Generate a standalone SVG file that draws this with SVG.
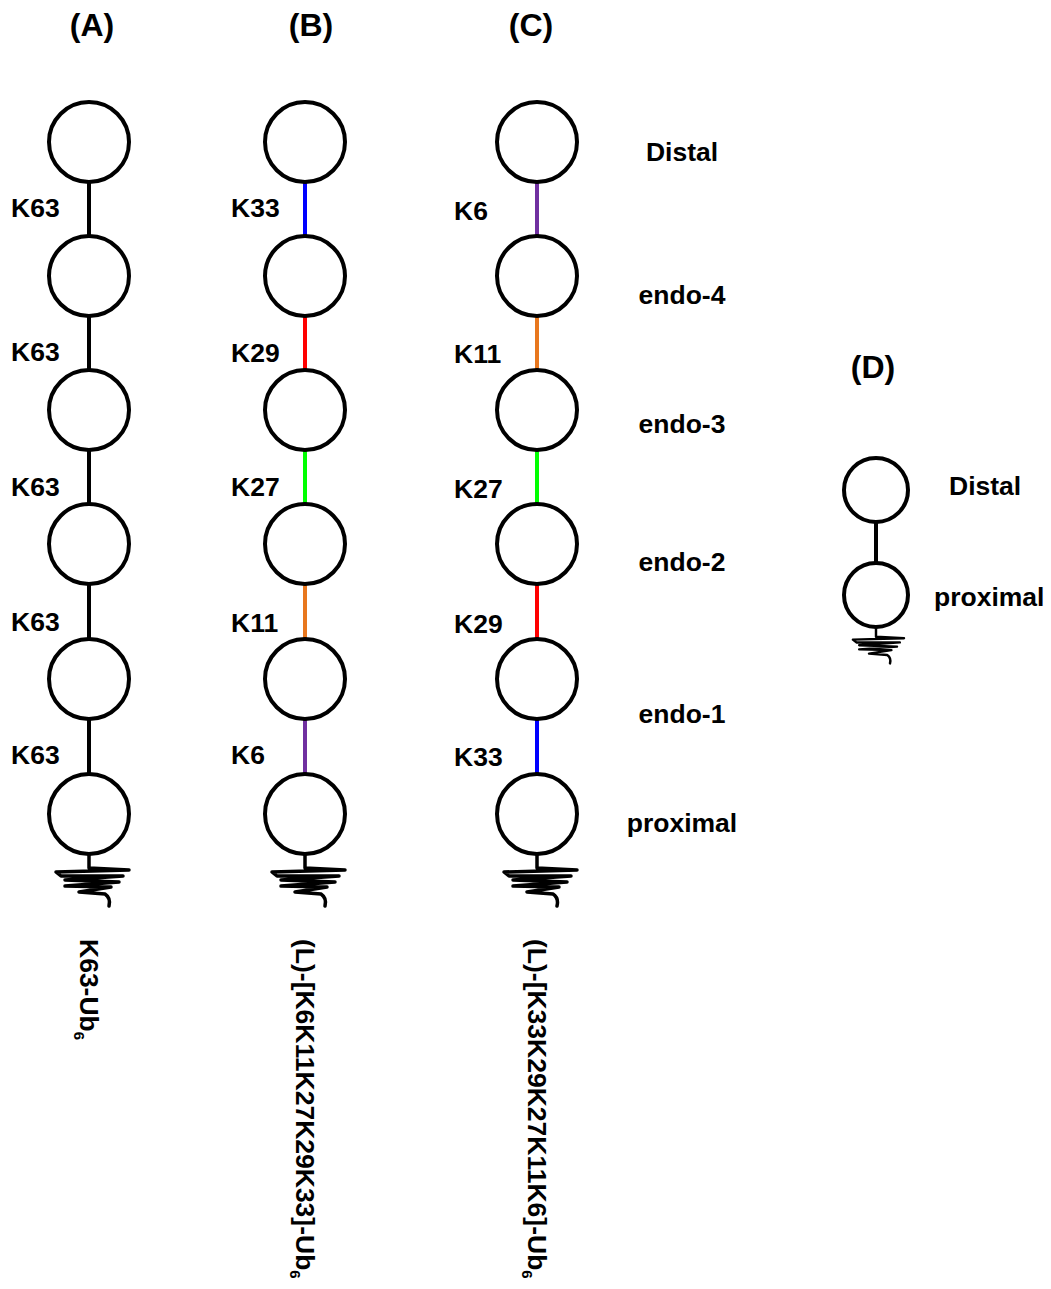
<svg xmlns="http://www.w3.org/2000/svg" width="1051" height="1289" viewBox="0 0 1051 1289">
<defs>
<style>
text{font-family:"Liberation Sans",Arial,sans-serif;font-weight:bold;fill:#000}
.h{font-size:32px;text-anchor:middle}
.k{font-size:26.5px}
.r{font-size:26.5px;text-anchor:middle}
.v{font-size:26.5px}
.sub{font-size:15px}
.ub{fill:#fff;stroke:#000;stroke-width:4}
.ln{stroke-width:4;fill:none}
.sq{fill:none;stroke:#000;stroke-width:3.5;stroke-linejoin:round;stroke-linecap:round}
</style>
<g id="squiggle">
<path class="sq" d="M0 0 V14 M0 14 L40 16 L-33 18 L-28 22 L34 22 L-24 26 L30 28 L-24 32 L22 33 L-10 38 L16 40 Q22 44 20 52"/>
</g>
</defs>
<rect width="1051" height="1289" fill="#fff"/>

<g id="headings">
<text class="h" x="92" y="36">(A)</text>
<text class="h" x="311" y="36">(B)</text>
<text class="h" x="531" y="36">(C)</text>
<text class="h" x="873" y="378">(D)</text>
</g>

<g id="connectors">
<line class="ln" stroke="#000" x1="89" y1="182" x2="89" y2="236"/>
<line class="ln" stroke="#000" x1="89" y1="316" x2="89" y2="370"/>
<line class="ln" stroke="#000" x1="89" y1="450" x2="89" y2="504"/>
<line class="ln" stroke="#000" x1="89" y1="584" x2="89" y2="639"/>
<line class="ln" stroke="#000" x1="89" y1="719" x2="89" y2="774"/>

<line class="ln" stroke="#0000ff" x1="305" y1="182" x2="305" y2="236"/>
<line class="ln" stroke="#ff0000" x1="305" y1="316" x2="305" y2="370"/>
<line class="ln" stroke="#00ff00" x1="305" y1="450" x2="305" y2="504"/>
<line class="ln" stroke="#e8771e" x1="305" y1="584" x2="305" y2="639"/>
<line class="ln" stroke="#7030a0" x1="305" y1="719" x2="305" y2="774"/>

<line class="ln" stroke="#7030a0" x1="537" y1="182" x2="537" y2="236"/>
<line class="ln" stroke="#e8771e" x1="537" y1="316" x2="537" y2="370"/>
<line class="ln" stroke="#00ff00" x1="537" y1="450" x2="537" y2="504"/>
<line class="ln" stroke="#ff0000" x1="537" y1="584" x2="537" y2="639"/>
<line class="ln" stroke="#0000ff" x1="537" y1="719" x2="537" y2="774"/>

<line class="ln" stroke="#000" x1="876" y1="522" x2="876" y2="563"/>
</g>

<g id="chainA">
<circle class="ub" cx="89" cy="142" r="40"/>
<circle class="ub" cx="89" cy="276" r="40"/>
<circle class="ub" cx="89" cy="410" r="40"/>
<circle class="ub" cx="89" cy="544" r="40"/>
<circle class="ub" cx="89" cy="679" r="40"/>
<circle class="ub" cx="89" cy="814" r="40"/>
<use href="#squiggle" transform="translate(89,854)"/>
<text class="k" x="11" y="217">K63</text>
<text class="k" x="11" y="361">K63</text>
<text class="k" x="11" y="496">K63</text>
<text class="k" x="11" y="631">K63</text>
<text class="k" x="11" y="764">K63</text>
<text class="v" transform="translate(80,939) rotate(90)">K63-Ub<tspan class="sub" dy="6">6</tspan></text>
</g>

<g id="chainB">
<circle class="ub" cx="305" cy="142" r="40"/>
<circle class="ub" cx="305" cy="276" r="40"/>
<circle class="ub" cx="305" cy="410" r="40"/>
<circle class="ub" cx="305" cy="544" r="40"/>
<circle class="ub" cx="305" cy="679" r="40"/>
<circle class="ub" cx="305" cy="814" r="40"/>
<use href="#squiggle" transform="translate(305,854)"/>
<text class="k" x="231" y="217">K33</text>
<text class="k" x="231" y="362">K29</text>
<text class="k" x="231" y="496">K27</text>
<text class="k" x="231" y="632">K11</text>
<text class="k" x="231" y="764">K6</text>
<text class="v" transform="translate(296,939) rotate(90)">(L)-[K6K11K27K29K33]-Ub<tspan class="sub" dy="6">6</tspan></text>
</g>

<g id="chainC">
<circle class="ub" cx="537" cy="142" r="40"/>
<circle class="ub" cx="537" cy="276" r="40"/>
<circle class="ub" cx="537" cy="410" r="40"/>
<circle class="ub" cx="537" cy="544" r="40"/>
<circle class="ub" cx="537" cy="679" r="40"/>
<circle class="ub" cx="537" cy="814" r="40"/>
<use href="#squiggle" transform="translate(537,854)"/>
<text class="k" x="454" y="220">K6</text>
<text class="k" x="454" y="363">K11</text>
<text class="k" x="454" y="498">K27</text>
<text class="k" x="454" y="633">K29</text>
<text class="k" x="454" y="766">K33</text>
<text class="v" transform="translate(528,939) rotate(90)">(L)-[K33K29K27K11K6]-Ub<tspan class="sub" dy="6">6</tspan></text>
</g>

<g id="positionLabels">
<text class="r" x="682" y="161">Distal</text>
<text class="r" x="682" y="304">endo-4</text>
<text class="r" x="682" y="433">endo-3</text>
<text class="r" x="682" y="571">endo-2</text>
<text class="r" x="682" y="723">endo-1</text>
<text class="r" x="682" y="832">proximal</text>
</g>

<g id="chainD">
<circle class="ub" cx="876" cy="490" r="32"/>
<circle class="ub" cx="876" cy="595" r="32"/>
<use href="#squiggle" transform="translate(876,627) scale(0.7)"/>
<text class="k" x="949" y="495">Distal</text>
<text class="k" x="934" y="606">proximal</text>
</g>
</svg>
